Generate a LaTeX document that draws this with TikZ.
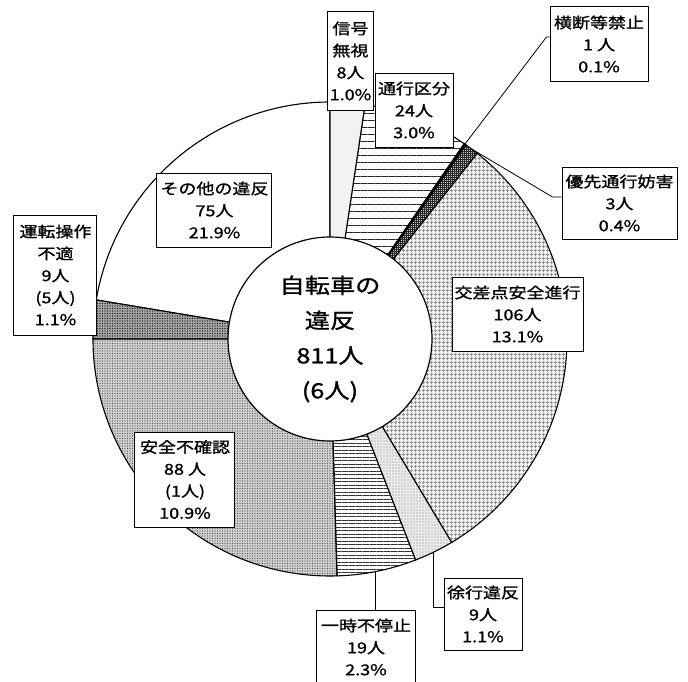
\documentclass[tikz,border=0pt]{standalone}
\usepackage{fontspec}
\newfontfamily\jp[FakeStretch=1.2,FakeBold=1.2]{Noto Sans CJK JP}
\usetikzlibrary{patterns.meta}

\tikzset{
  part/.style={draw,line width=1.1pt},
  lbl/.style={draw,line width=1pt,fill=white,inner sep=0pt,align=center,
    font=\jp\fontsize{15}{22}\selectfont},
  lead/.style={line width=0.8pt}
}

\begin{document}
\begin{tikzpicture}[x=1pt,y=1pt]
            \useasboundingbox[fill=white] (-330,-342) rectangle (358,339);

            % ring, counterclockwise from the left side
            \draw[part,fill=white] (0,0) -- (90:237) arc (90:170.5:237) -- cycle;
            \draw[part,preaction={fill=gray!70},pattern={Dots[distance=2.5pt,radius=0.7pt]},pattern color=black] (0,0) -- (170.5:237) arc (170.5:180:237) -- cycle;
            \draw[part,preaction={fill=gray!35},pattern={Dots[distance=2.5pt,radius=0.7pt]},pattern color=black!70] (0,0) -- (180:237) arc (180:271.7:237) -- cycle;
            \draw[part,pattern={Lines[angle=0,distance=3.5pt,line width=0.9pt]},pattern color=black!80] (0,0) -- (271.7:237) arc (271.7:291.2:237) -- cycle;
            \draw[part,preaction={fill=gray!15},pattern={Dots[distance=3pt,radius=0.6pt]},pattern color=gray] (0,0) -- (291.2:237) arc (291.2:300.9:237) -- cycle;
            \draw[part,preaction={fill=gray!10},pattern={Hatch[angle=0,distance=4pt,line width=0.9pt]},pattern color=gray!85] (0,0) -- (300.9:237) arc (300.9:411.6:237) -- cycle;
            \draw[part,preaction={fill=gray!40},pattern={Hatch[angle=0,distance=2pt,line width=0.6pt]},pattern color=black!85] (0,0) -- (51.6:237) arc (51.6:55:237) -- cycle;
            \draw[part,fill=black] (0,0) -- (55:237) arc (55:55.5:237) -- cycle;
            \draw[part,pattern={Lines[angle=0,distance=7pt,line width=1pt]},pattern color=black!85] (0,0) -- (55.5:237) arc (55.5:81.5:237) -- cycle;
            \draw[part,fill=gray!10] (0,0) -- (81.5:237) arc (81.5:90:237) -- cycle;

            \node[circle,draw,line width=1.2pt,fill=white,minimum size=204pt,inner sep=0pt,align=center,
              font=\jp\fontsize{21}{35}\selectfont] (hub) at (0,0) {自転車の\\違反\\811人\\(6人)};

            % leader ends on the ring
            \coordinate (oudanpt) at (55.3:237);
            \coordinate (yusenpt) at (53.3:237);
            \coordinate (jokoupt) at (296:237);
            \coordinate (teishipt) at (281:237);

            \node[lbl,minimum width=45pt,minimum height=98pt] (shingobox) at (20.5,278) {信号\\無視\\8人\\1.0\%};
            \node[lbl,minimum width=78pt,minimum height=74pt] (tsukobox) at (84,229) {通行区分\\24人\\3.0\%};
            \node[lbl,minimum width=98pt,minimum height=74pt] (oudanbox) at (269,295) {横断等禁止\\1 人\\0.1\%};
            \node[lbl,minimum width=115pt,minimum height=72pt] (yusenbox) at (289.5,136) {優先通行妨害\\3人\\0.4\%};
            \node[lbl,minimum width=131pt,minimum height=74pt] (kousabox) at (187.5,25) {交差点安全進行\\106人\\13.1\%};
            \node[lbl,minimum width=78pt,minimum height=72pt] (jokoubox) at (153,-275) {徐行違反\\9人\\1.1\%};
            \node[lbl,minimum width=98pt,minimum height=74pt] (teishibox) at (36,-308) {一時不停止\\19人\\2.3\%};
            \node[lbl,minimum width=100pt,minimum height=95pt] (kakuninbox) at (-145,-140.5) {安全不確認\\88 人\\(1人)\\10.9\%};
            \node[lbl,minimum width=83pt,minimum height=120pt] (sousabox) at (-274.5,64) {運転操作\\不適\\9人\\(5人)\\1.1\%};
            \node[lbl,minimum width=115pt,minimum height=74pt] (sonotabox) at (-115.5,129) {その他の違反\\75人\\21.9\%};

            \draw[lead] (oudanpt) -- ([shift={(-3pt,7pt)}]oudanbox.west) -- ([yshift=7pt]oudanbox.west);
            \draw[lead] (yusenpt) -- ([shift={(-9pt,6pt)}]yusenbox.west) -- ([yshift=6pt]yusenbox.west);
            \draw[lead] (jokoupt) |- ([yshift=7pt]jokoubox.west);
            \draw[lead] (teishipt) -- (teishipt |- teishibox.north);
        \end{tikzpicture}
\end{document}
